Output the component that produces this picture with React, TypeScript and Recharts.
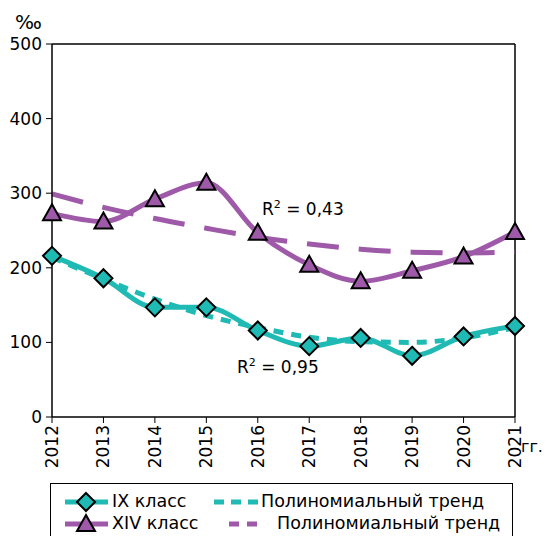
import { LineChart, Line, XAxis, YAxis, ReferenceLine, Legend, Customized } from "recharts"

const years = ["2012", "2013", "2014", "2015", "2016", "2017", "2018", "2019", "2020", "2021"]
const ixValues = [216, 186, 147, 147, 116, 95, 106, 82, 108, 122]
const xivValues = [273, 262, 292, 314, 247, 204, 182, 196, 215, 248]
const ixTrend = [214, 185, 158, 136, 120, 107, 101, 100, 106, 120]
const xivTrend = [299, 281, 266, 253, 241, 232, 225, 221, 220, 221]
const yTicks = [0, 100, 200, 300, 400, 500]

const TEAL = "#20bab5"
const PURPLE = "#9e5aa8"
const FONT = "'DejaVu Sans', sans-serif"

const data = years.map((year, i) => ({
  year,
  ix: ixValues[i],
  xiv: xivValues[i],
  ixTrend: ixTrend[i],
  xivTrend: xivTrend[i],
}))

function Diamond(props: any) {
  const { cx, cy } = props
  if (cx == null || cy == null) return null
  const r = 9
  return (
    <path
      d={`M${cx},${cy - r}L${cx + r},${cy}L${cx},${cy + r}L${cx - r},${cy}Z`}
      fill={TEAL}
      stroke="#000"
      strokeWidth={2}
    />
  )
}

function Triangle(props: any) {
  const { cx, cy } = props
  if (cx == null || cy == null) return null
  return (
    <path
      d={`M${cx},${cy - 9}L${cx + 9},${cy + 7}L${cx - 9},${cy + 7}Z`}
      fill={PURPLE}
      stroke="#000"
      strokeWidth={2}
    />
  )
}

function YearTick(props: any) {
  const { x, y, payload } = props
  return (
    <text
      x={x}
      y={y}
      transform={`rotate(-90 ${x} ${y})`}
      textAnchor="end"
      dominantBaseline="central"
      fontSize={17}
      fontFamily={FONT}
      fill="#000"
    >
      {payload.value}
    </text>
  )
}

function Annotations() {
  return (
    <g fontFamily={FONT} fill="#000">
      <text x={15} y={29} fontSize={20}>‰</text>
      <text x={521} y={452} fontSize={16}>гг.</text>
      <text x={262} y={215} fontSize={17}>
        R<tspan dy={-7} fontSize={11}>2</tspan><tspan dy={7}> = 0,43</tspan>
      </text>
      <text x={237} y={373} fontSize={17}>
        R<tspan dy={-7} fontSize={11}>2</tspan><tspan dy={7}> = 0,95</tspan>
      </text>
    </g>
  )
}

function LegendBox() {
  const text = { position: "absolute" as const, fontSize: 17.5, fontFamily: FONT, color: "#000", whiteSpace: "nowrap" as const, lineHeight: "20px" }
  return (
    <div style={{ position: "relative", width: 463, height: 60, border: "1px solid #000", boxSizing: "border-box", background: "#fff" }}>
      <svg width={463} height={60} style={{ position: "absolute", left: 0, top: 0 }}>
        <line x1={14} y1={18} x2={57} y2={18} stroke={TEAL} strokeWidth={5} />
        <Diamond cx={35} cy={18} />
        <line x1={163} y1={18} x2={207} y2={18} stroke={TEAL} strokeWidth={5} strokeDasharray="10 7" />
        <line x1={14} y1={40} x2={57} y2={40} stroke={PURPLE} strokeWidth={5} />
        <Triangle cx={35} cy={40} />
        <line x1={178} y1={40} x2={207} y2={40} stroke={PURPLE} strokeWidth={5} strokeDasharray="10 8" />
      </svg>
      <div style={{ ...text, left: 61, top: 7 }}>IX класс</div>
      <div style={{ ...text, left: 210, top: 7 }}>Полиномиальный тренд</div>
      <div style={{ ...text, left: 61, top: 29 }}>XIV класс</div>
      <div style={{ ...text, left: 226, top: 29 }}>Полиномиальный тренд</div>
    </div>
  )
}

export default function App() {
  return (
    <div style={{ position: "absolute", left: 0, top: 0, width: 547, height: 536, background: "#fff", fontFamily: FONT }}>
      <LineChart width={547} height={536} data={data} margin={{ top: 44, right: 32, left: 0, bottom: 64 }}>
        <XAxis
          dataKey="year"
          height={55}
          tick={<YearTick />}
          tickSize={6}
          tickMargin={2}
          axisLine={{ stroke: "#000", strokeWidth: 1.5 }}
          tickLine={{ stroke: "#000" }}
          interval={0}
        />
        <YAxis
          width={52}
          domain={[0, 500]}
          ticks={yTicks}
          tickSize={6}
          tickMargin={4}
          axisLine={{ stroke: "#000", strokeWidth: 1.5 }}
          tickLine={{ stroke: "#000" }}
          tick={{ fill: "#000", fontSize: 17, fontFamily: FONT }}
        />
        <ReferenceLine y={500} stroke="#000" strokeWidth={1.5} />
        <ReferenceLine x="2021" stroke="#000" strokeWidth={1.5} />
        <Line dataKey="xivTrend" stroke={PURPLE} strokeWidth={5} strokeDasharray="32 20" dot={false} type="monotone" isAnimationActive={false} />
        <Line dataKey="ixTrend" stroke={TEAL} strokeWidth={5} strokeDasharray="10 8" dot={false} type="monotone" isAnimationActive={false} />
        <Line dataKey="ix" stroke={TEAL} strokeWidth={5} dot={<Diamond />} activeDot={false} type="monotone" isAnimationActive={false} />
        <Line dataKey="xiv" stroke={PURPLE} strokeWidth={5} dot={<Triangle />} activeDot={false} type="monotone" isAnimationActive={false} />
        <Legend
          layout="vertical"
          align="center"
          verticalAlign="middle"
          content={<LegendBox />}
          wrapperStyle={{ left: 50, top: 483, width: 463, height: 60 }}
        />
        <Customized component={<Annotations />} />
      </LineChart>
    </div>
  )
}
